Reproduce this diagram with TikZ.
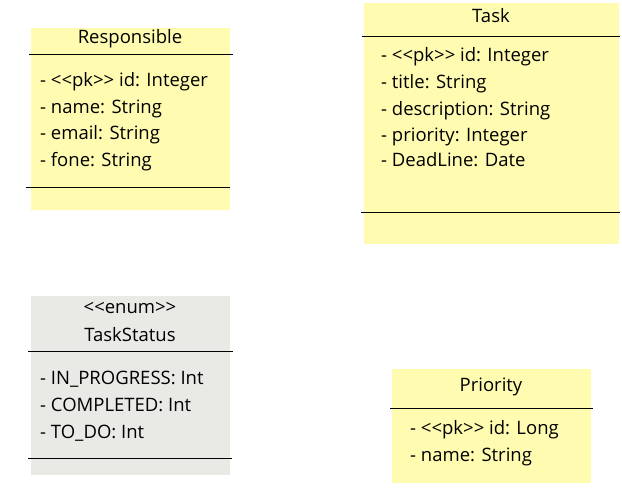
\documentclass[tikz,border=0pt]{standalone}
\usepackage{fontspec}
\setmainfont{Open Sans}
\definecolor{classyellow}{HTML}{FFFBB0}
\definecolor{enumgray}{HTML}{E9E9E5}
\tikzset{
  title/.style={anchor=mid,inner sep=0pt,font=\fontsize{18.5}{22}\selectfont},
  attr/.style={anchor=mid west,inner sep=0pt,font=\fontsize{18.5}{22}\selectfont},
}
\begin{document}
\begin{tikzpicture}[x=1pt,y=-1pt]
\useasboundingbox (0,0) rectangle (622,496);
% Responsible
\begin{scope}
\fill[classyellow] (31,28) rectangle (230,210);
\draw (29,54) -- (233,54);
\draw (26,187) -- (230,187);
\node[title] (resp) at (130,41) {Responsible};
\foreach \y/\t [count=\i] in {84/- <{}<pk>{}> id: Integer,111/- name: String,137/- email: String,164/- fone: String}
  \node[attr] (resp\i) at (40,\y) {\t};
\end{scope}
% Task
\begin{scope}
\fill[classyellow] (364,3) rectangle (619,244);
\draw (362,36) -- (620,36);
\draw (361,212) -- (620,212);
\node[title] (task) at (491,20) {Task};
\foreach \y/\t [count=\i] in {59/- <{}<pk>{}> id: Integer,86/- title: String,113/- description: String,139/- priority: Integer,164/- DeadLine: Date}
  \node[attr] (task\i) at (381,\y) {\t};
\end{scope}
% TaskStatus
\begin{scope}
\fill[enumgray] (31,296) rectangle (230,475);
\draw (28,351) -- (233,351);
\draw (28,458) -- (232,458);
\node[title] (stereo) at (130,311) {<{}<enum>{}>};
\node[title] (status) at (130,339) {TaskStatus};
\foreach \y/\t [count=\i] in {382/- IN\_PROGRESS: Int,409/- COMPLETED: Int,436/- TO\_DO: Int}
  \node[attr] (status\i) at (40,\y) {\t};
\end{scope}
% Priority
\begin{scope}
\fill[classyellow] (392,369) rectangle (591,483);
\draw (390,408) -- (593,408);
\node[title] (prio) at (491,389) {Priority};
\foreach \y/\t [count=\i] in {432/- <{}<pk>{}> id: Long,459/- name: String}
  \node[attr] (prio\i) at (410,\y) {\t};
\end{scope}
\end{tikzpicture}
\end{document}
